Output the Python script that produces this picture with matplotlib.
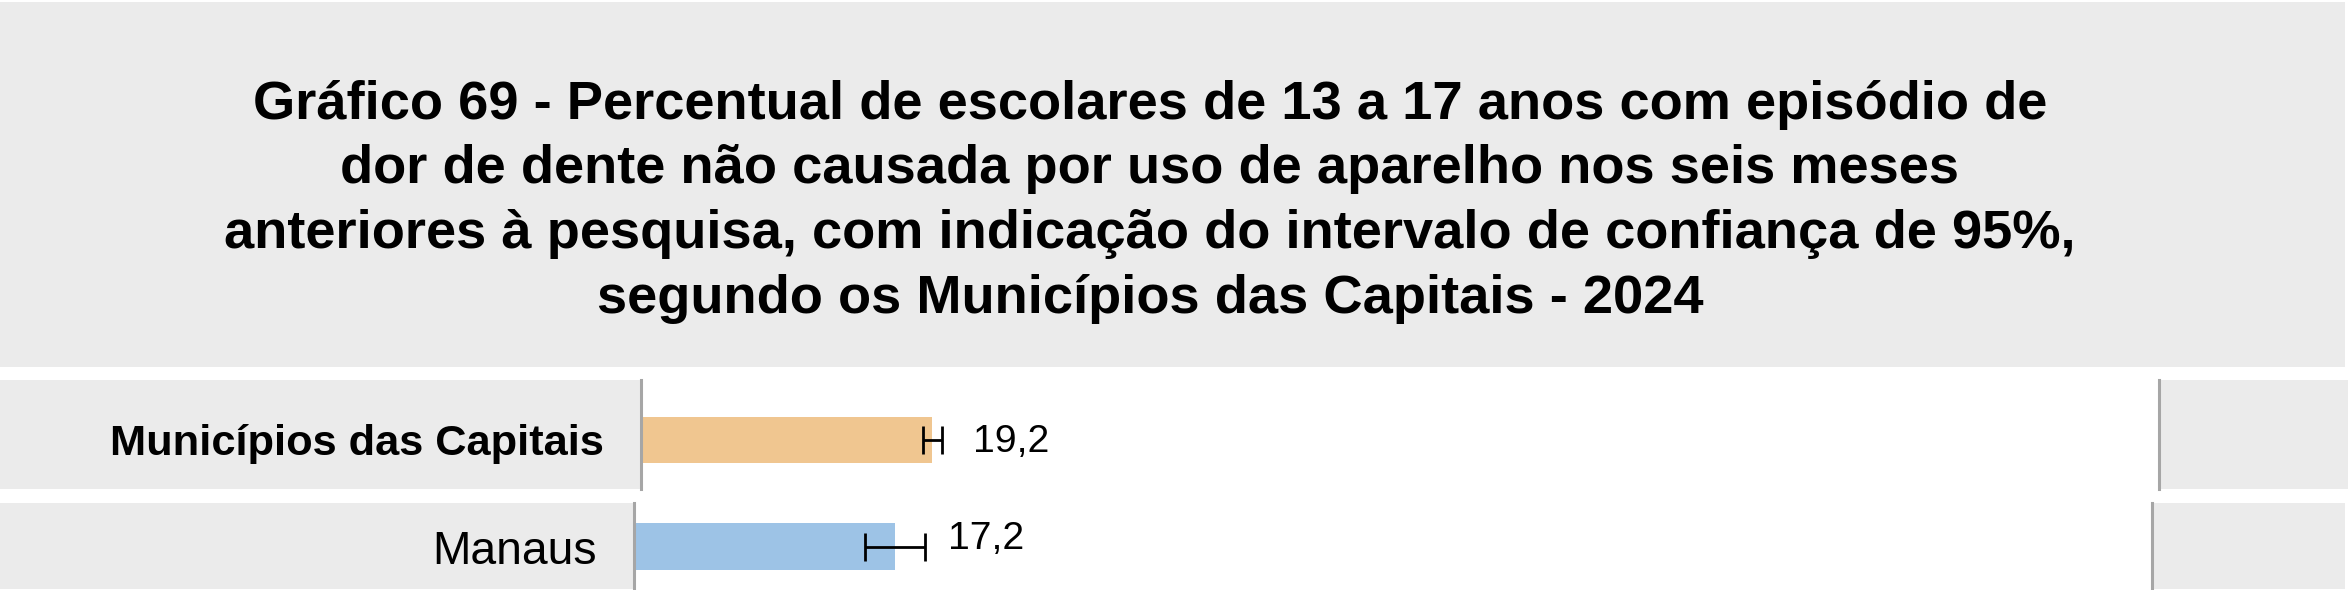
import matplotlib
matplotlib.use("Agg")
import matplotlib.pyplot as plt
from matplotlib.patches import Rectangle

# ---------------- data ----------------
categories = ["Municípios das Capitais", "Manaus"]
values = [19.2, 17.2]
ci_low = [18.6, 15.2]
ci_high = [19.8, 19.2]
value_labels = ["19,2", "17,2"]
bar_colors = ["#F0C690", "#9DC3E6"]
bold_category = [True, False]
title_lines = [
    "Gráfico 69 - Percentual de escolares de 13 a 17 anos com episódio de",
    "dor de dente não causada por uso de aparelho nos seis meses",
    "anteriores à pesquisa, com indicação do intervalo de confiança de 95%,",
    "segundo os Municípios das Capitais - 2024",
]

# ---------------- style / layout ----------------
W, H = 2352, 590
FAM = ["Liberation Sans Narrow", "Liberation Sans", "DejaVu Sans"]
GRAY = "#EBEBEB"
LINE_GRAY = "#A6A6A6"
plt.rcParams["font.family"] = FAM

fig = plt.figure(figsize=(W / 100, H / 100), dpi=100)
fig.patch.set_facecolor("white")
renderer = fig.canvas.get_renderer()


def fx(px):
    return px / W


def fy(py):
    return 1 - py / H


def fit(text, target_px, weight, base=30.0, boost=1.06):
    t = fig.text(0, 0, text, fontsize=base, fontweight=weight)
    w = t.get_window_extent(renderer).width
    t.remove()
    return base * target_px / w * boost


title_fs = fit(title_lines[0], 1692, "bold")
cat_bold_fs = fit(categories[0], 466, "bold")
cat_fs = fit(categories[1], 155, "normal")
val_fs = fit(value_labels[0], 72, "normal")

# title box
fig.add_artist(Rectangle((0, fy(367)), fx(2345), (367 - 2) / H,
                         transform=fig.transFigure, facecolor=GRAY,
                         edgecolor="none", zorder=-1))
title_baselines = [119, 183, 248, 313]
for line, yb in zip(title_lines, title_baselines):
    fig.text(fx(1150), fy(yb), line, ha="center", va="baseline",
             fontsize=title_fs, fontweight="bold", color="black")

rows = [
    dict(left=641, right=2159, top=380, bottom=489, box_right=2348,
         ylim=(-0.45, 0.55), bar_h=0.422, dx=31, dy=-12),
    dict(left=634, right=2152, top=503, bottom=589, box_right=2345,
         ylim=(-0.494, 0.506), bar_h=0.547, dx=23, dy=-2),
]

for i, r in enumerate(rows):
    # side boxes
    fig.add_artist(Rectangle((0, fy(r["bottom"])), fx(r["left"]),
                             (r["bottom"] - r["top"]) / H,
                             transform=fig.transFigure, facecolor=GRAY,
                             edgecolor="none", zorder=-1))
    fig.add_artist(Rectangle((fx(r["right"]), fy(r["bottom"])),
                             fx(r["box_right"] - r["right"]),
                             (r["bottom"] - r["top"]) / H,
                             transform=fig.transFigure, facecolor=GRAY,
                             edgecolor="none", zorder=-1))
    ax = fig.add_axes([fx(r["left"]), fy(r["bottom"]),
                       fx(r["right"] - r["left"]), (r["bottom"] - r["top"]) / H])
    ax.set_facecolor("white")
    ax.barh([0], [values[i]], height=r["bar_h"], color=bar_colors[i], zorder=2)
    ax.errorbar([values[i]], [0],
                xerr=[[values[i] - ci_low[i]], [ci_high[i] - values[i]]],
                fmt="none", ecolor="black", elinewidth=2.0, capsize=10,
                capthick=2.0, zorder=3)
    ax.set_xlim(0, 100)
    ax.set_ylim(*r["ylim"])
    ax.set_xticks([])
    ax.set_yticks([0])
    ax.set_yticklabels([categories[i]],
                       fontsize=cat_bold_fs if bold_category[i] else cat_fs,
                       fontweight="bold" if bold_category[i] else "normal")
    ax.tick_params(axis="y", length=0, pad=27)
    for s in ("top", "bottom"):
        ax.spines[s].set_visible(False)
    for s in ("left", "right"):
        ax.spines[s].set_color(LINE_GRAY)
        ax.spines[s].set_linewidth(2.2)
    ax.annotate(value_labels[i], xy=(ci_high[i], 0),
                xytext=(r["dx"], r["dy"]), textcoords="offset pixels",
                ha="left", va="baseline", fontsize=val_fs, color="black")

fig.savefig("out.png", dpi=100, facecolor="white")
